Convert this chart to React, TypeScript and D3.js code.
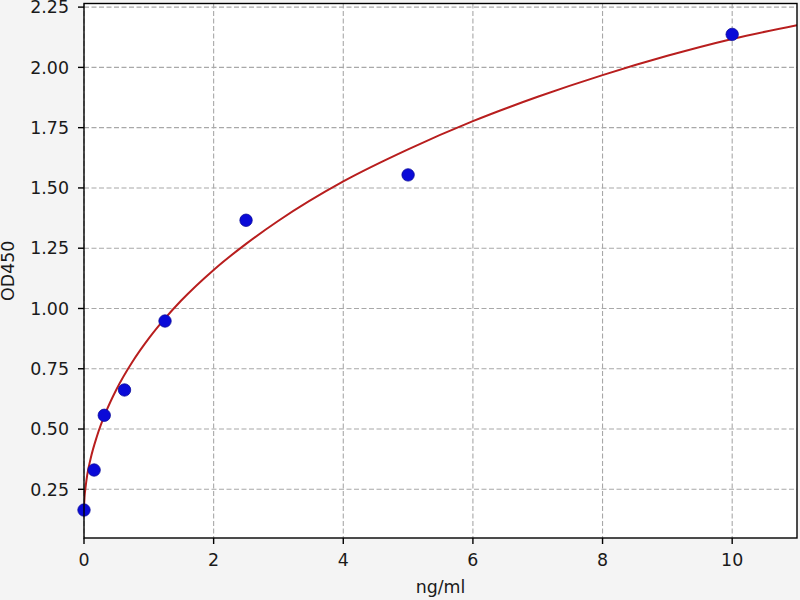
import React from "react";
import * as d3 from "d3";

// Measured standards (ng/ml vs OD450)
const concentrations = [0, 0.156, 0.3125, 0.625, 1.25, 2.5, 5, 10];
const odValues = [0.164, 0.33, 0.557, 0.662, 0.948, 1.366, 1.554, 2.137];

const curveX = [0, 0.01, 0.02, 0.05, 0.1, 0.2, 0.35, 0.5, 0.75, 1, 1.25, 1.5, 2, 2.5, 3, 4, 5, 6, 7, 8, 9, 10, 11];
const curveY = [0.175, 0.225, 0.25, 0.31, 0.375, 0.47, 0.578, 0.664, 0.78, 0.876, 0.959, 1.033, 1.16, 1.268, 1.364, 1.527, 1.66, 1.777, 1.878, 1.968, 2.048, 2.118, 2.175];

const xTicks = [0, 2, 4, 6, 8, 10];
const yTicks = [0.25, 0.5, 0.75, 1.0, 1.25, 1.5, 1.75, 2.0, 2.25];

const xLabel = "ng/ml";
const yLabel = "OD450";

export default function App() {
  const W = 800;
  const H = 600;
  const left = 84;
  const right = 797;
  const top = 3.5;
  const bottom = 538;
  const font = "'DejaVu Sans', sans-serif";
  const fs = 17.4;

  const x = d3.scaleLinear().domain([0, 11]).range([left, right]);
  const y = d3.scaleLinear().domain([0.048, 2.265]).range([bottom, top]);

  const line = d3
    .line<number>()
    .x((_, i) => x(curveX[i]))
    .y((d) => y(d))
    .curve(d3.curveMonotoneX);

  return (
    <svg
      width={W}
      height={H}
      style={{ position: "absolute", left: 0, top: 0 }}
      fontFamily={font}
    >
      <rect x={0} y={0} width={W} height={H} fill="#f4f4f4" />
      <rect x={left} y={top} width={right - left} height={bottom - top} fill="#ffffff" />
      <defs>
        <clipPath id="plotclip">
          <rect x={left} y={top} width={right - left} height={bottom - top} />
        </clipPath>
      </defs>
      {/* grid */}
      {xTicks.map((t) => (
        <line
          key={"gx" + t}
          x1={x(t)}
          x2={x(t)}
          y1={top}
          y2={bottom}
          stroke="#a8a8a8"
          strokeWidth={1.1}
          strokeDasharray="5,2.5"
        />
      ))}
      {yTicks.map((t) => (
        <line
          key={"gy" + t}
          x1={left}
          x2={right}
          y1={y(t)}
          y2={y(t)}
          stroke="#a8a8a8"
          strokeWidth={1.1}
          strokeDasharray="5,2.5"
        />
      ))}
      {/* fitted curve */}
      <g clipPath="url(#plotclip)">
        <path d={line(curveY) || ""} fill="none" stroke="#b81e1e" strokeWidth={2} />
      </g>
      {/* points */}
      {concentrations.map((c, i) => (
        <circle
          key={"p" + i}
          cx={x(c)}
          cy={y(odValues[i])}
          r={6.2}
          fill="#0a0ad8"
          stroke="#0a0a9a"
          strokeWidth={0.8}
        />
      ))}
      {/* spines */}
      <rect
        x={left}
        y={top}
        width={right - left}
        height={bottom - top}
        fill="none"
        stroke="#000"
        strokeWidth={1.4}
      />
      {/* x ticks */}
      {xTicks.map((t) => (
        <g key={"xt" + t}>
          <line x1={x(t)} x2={x(t)} y1={bottom} y2={bottom + 6} stroke="#000" strokeWidth={1.4} />
          <text x={x(t)} y={bottom + 28} textAnchor="middle" fontSize={fs} fill="#1a1a1a">
            {t}
          </text>
        </g>
      ))}
      {/* y ticks */}
      {yTicks.map((t) => (
        <g key={"yt" + t}>
          <line x1={left - 6} x2={left} y1={y(t)} y2={y(t)} stroke="#000" strokeWidth={1.4} />
          <text
            x={left - 15}
            y={y(t)}
            dy="0.36em"
            textAnchor="end"
            fontSize={fs}
            fill="#1a1a1a"
          >
            {t.toFixed(2)}
          </text>
        </g>
      ))}
      <text x={(left + right) / 2} y={593} textAnchor="middle" fontSize={fs} fill="#1a1a1a">
        {xLabel}
      </text>
      <text
        transform={`translate(14, ${(top + bottom) / 2}) rotate(-90)`}
        textAnchor="middle"
        fontSize={fs}
        fill="#1a1a1a"
      >
        {yLabel}
      </text>
    </svg>
  );
}
